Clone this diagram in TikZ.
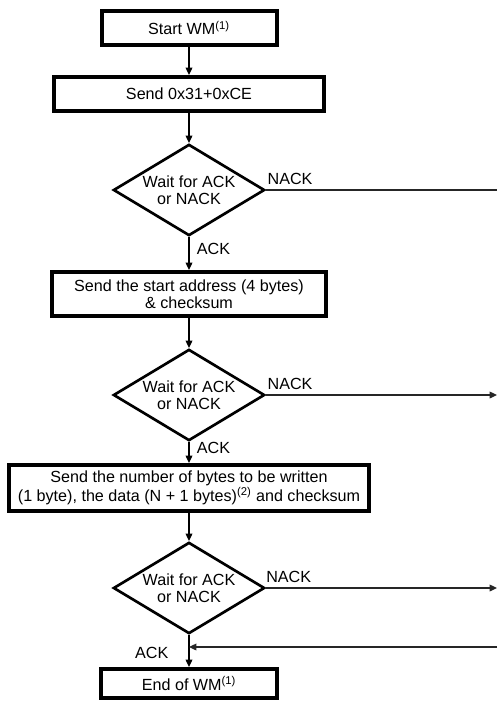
\documentclass[tikz,border=0pt]{standalone}
\usepackage{fontspec}
\setmainfont{Liberation Sans}
\usepackage{tikz}
\usetikzlibrary{arrows.meta,positioning,shapes.geometric,calc}

\begin{document}
\begin{tikzpicture}[
    x=0.75pt, y=-0.75pt,
    every node/.style={font=\fontsize{12.1}{13}\selectfont},
    wmbox/.style={
      rectangle, draw=black, line width=3pt, fill=white,
      inner sep=0pt, align=center
    },
    waitdia/.style={
      diamond, draw=black, line width=2pt, aspect=1.65, fill=white,
      inner sep=0pt, minimum width=113.5pt, minimum height=68.5pt, align=center
    },
    arr/.style={-{Triangle[length=5.5pt,width=5pt]}, line width=0.95pt},
    nline/.style={line width=0.95pt, black!85},
    lbl/.style={inner sep=0pt}
  ]
    \useasboundingbox (0,0) rectangle (497,703);

    \node[wmbox, minimum width=131.25pt, minimum height=25.5pt] (start) at (189,28) {Start WM\textsuperscript{(1)}};
    \node[wmbox, minimum width=202.5pt, minimum height=25.5pt] (send) at (189,94) {Send 0x31+0xCE};
    \node[waitdia] (wait1) at (189,190) {Wait for ACK\\or NACK};
    \node[wmbox, minimum width=205.5pt, minimum height=33pt] (addr) at (189,294) {Send the start address (4 bytes)\\\& checksum};
    \node[waitdia] (wait2) at (189,395) {Wait for ACK\\or NACK};
    \node[wmbox, minimum width=270pt, minimum height=34.5pt] (data) at (189,488) {Send the number of bytes to be written\\(1 byte), the data (N + 1 bytes)\textsuperscript{(2)} and checksum};
    \node[waitdia] (wait3) at (189,588) {Wait for ACK\\or NACK};
    \node[wmbox, minimum width=132pt, minimum height=21.75pt] (end) at (189,683.5) {End of WM\textsuperscript{(1)}};

    \coordinate (nack1) at (497,190);
    \coordinate (nack2) at (497,395);
    \coordinate (nack3) at (497,588);
    \coordinate (back) at (497,647);

    \draw[arr] (start) -- (send);
    \draw[arr] (send) -- (wait1);
    \draw[arr] (wait1) -- node[lbl, pos=0.35, right=5.5pt] {ACK} (addr);
    \draw[arr] (addr) -- (wait2);
    \draw[arr] (wait2) -- node[lbl, pos=0.28, right=5.5pt] {ACK} (data);
    \draw[arr] (data) -- (wait3);
    \draw[arr] (wait3) -- node[lbl, pos=0.55, left=15pt] {ACK} (end);

    \draw[nline] (wait1.east) -- (nack1);
    \draw[nline, arr] (wait2.east) -- (nack2);
    \draw[nline, arr] (wait3.east) -- (nack3);
    \draw[nline, arr] (back) -- (back -| end.north);

    \node[lbl, anchor=south west] at ([xshift=1pt,yshift=3.5pt]wait1.east) {NACK};
    \node[lbl, anchor=south west] at ([xshift=1pt,yshift=3.5pt]wait2.east) {NACK};
    \node[lbl, anchor=south west] at ([xshift=0pt,yshift=3.5pt]wait3.east) {NACK};
  \end{tikzpicture}
\end{document}
